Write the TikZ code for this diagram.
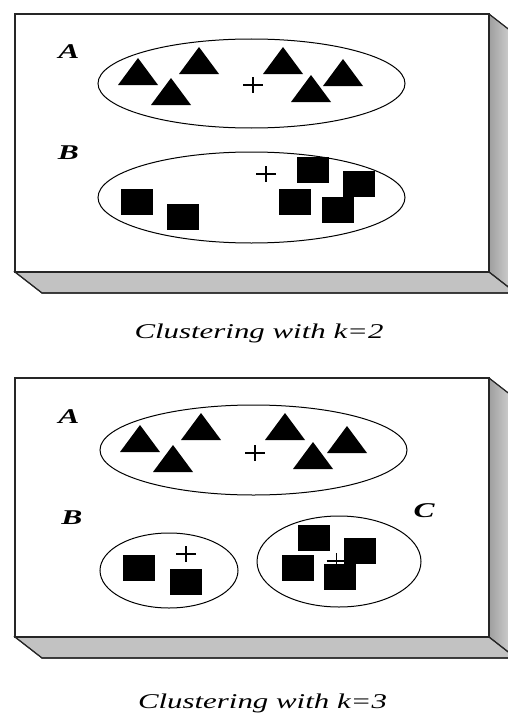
\documentclass[tikz,border=0pt]{standalone}
\usepackage{fontspec}
\setmainfont{Liberation Serif}
\begin{document}
\begin{tikzpicture}[x=1pt,y=-1pt,
  frontface/.style={draw=black!85, line width=1.2pt, fill=white},
  sideface/.style={left color=black!38, right color=black!14, draw=black!80, line width=0.9pt},
  bottomface/.style={fill=black!24, draw=black!85, line width=1.1pt},
  clus/.style={draw=black, line width=1pt},
  ctr/.style={draw=black, line width=1.7pt},
  lab/.style={font=\fontsize{21}{21}\selectfont\bfseries\itshape, xscale=1.5, inner sep=0pt},
  captext/.style={font=\fontsize{21}{21}\selectfont\itshape, xscale=1.47, inner sep=0pt, anchor=base},
  tri/.pic={\fill[black] (-20,27) -- (0,0) -- (20,27) -- cycle;},
  blk/.pic={\fill[black] (0,0) rectangle (32,26);},
  cross/.pic={\draw[ctr] (-10,0) -- (10,0) (0,-8) -- (0,8);}]

\useasboundingbox (0,0) rectangle (507,717);

% a 3D slab: front face with right and bottom faces, given top and bottom y
\newcommand\slab[2]{%
  \fill[sideface] (489,#1) -- (516,#1+21) -- (516,#2+21) -- (489,#2) -- cycle;
  \fill[bottomface] (15,#2) -- (489,#2) -- (516,#2+21) -- (42,#2+21) -- cycle;
  \draw[black!85, line width=1.1pt] (15,#2) -- (42,#2+21) -- (516,#2+21);
  \draw[black!85, line width=1.1pt] (489,#1) -- (516,#1+21);
  \draw[black!85, line width=1.1pt] (489,#2) -- (516,#2+21);
  \draw[frontface] (15,#1) rectangle (489,#2);
}

% ---------- k = 2 ----------
\slab{14}{272}
\draw[clus] (251.5,83.5) ellipse [x radius=153.5, y radius=44.5];
\foreach \p in {(138,58),(199,47),(171,78),(283,47),(343,59),(311,75)}
  \pic at \p {tri};
\pic at (253,85) {cross};
\draw[clus] (251.5,197.5) ellipse [x radius=153.5, y radius=45.5];
\foreach \p in {(121,189),(167,204),(297,157),(343,171),(279,189),(322,197)}
  \pic at \p {blk};
\pic at (266,174) {cross};
\node[lab] (a1) at (69,52) {A};
\node[lab] (b1) at (68.5,153) {B};
\node[captext] (cap1) at (259,338) {Clustering with k=2};

% ---------- k = 3 ----------
\slab{378}{637}
\draw[clus] (253.5,450) ellipse [x radius=153.5, y radius=45];
\foreach \p in {(140,425),(201,413),(173,445),(285,413),(347,426),(313,442)}
  \pic at \p {tri};
\pic at (255,453) {cross};
\draw[clus] (169,570.5) ellipse [x radius=69, y radius=37.5];
\foreach \p in {(123,555),(170,569)}
  \pic at \p {blk};
\pic at (186,554) {cross};
\draw[clus] (339,561.5) ellipse [x radius=82, y radius=45.5];
\pic at (336.5,561) {cross};
\foreach \p in {(298,525),(344,538),(282,555),(324,564)}
  \pic at \p {blk};
\node[lab] (a2) at (69,417) {A};
\node[lab] (b2) at (72,518) {B};
\node[lab] (c2) at (424,511) {C};
\node[captext] (cap2) at (262.5,708) {Clustering with k=3};
\end{tikzpicture}
\end{document}
